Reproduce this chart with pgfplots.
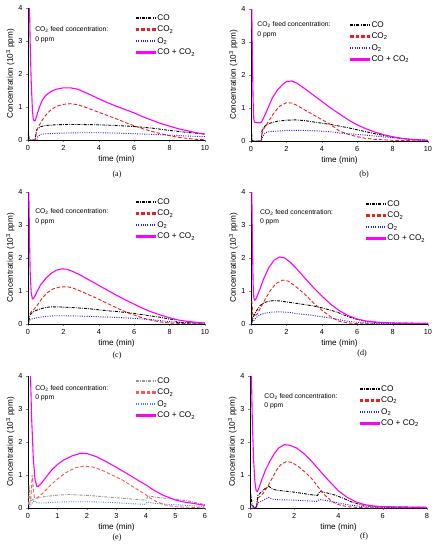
\documentclass[border=0pt]{standalone}
\usepackage{fontspec}
\setmainfont{Liberation Sans}
\newfontfamily\capfont{Liberation Serif}
\usepackage{pgfplots}
\pgfplotsset{compat=1.18}
\definecolor{cmag}{RGB}{255,0,255}
\definecolor{cred}{RGB}{240,30,30}
\definecolor{cblue}{RGB}{30,30,255}
\definecolor{cgray}{RGB}{150,150,150}
\definecolor{cred2}{RGB}{245,90,90}
\definecolor{cblue2}{RGB}{60,130,255}
\pgfplotsset{
  panel/.style={
    scale only axis, width=177pt, height=132pt, anchor=south west,
    axis lines=left, axis line style={-, line width=0.6pt},
    xmin=0, ymin=0, ymax=4, ytick={0,1,2,3,4},
    tick align=outside, major tick length=2pt,
    /pgf/number format/assume math mode=true,
    ticklabel style={font=\fontsize{7.3}{8}\selectfont},
    label style={font=\fontsize{8.2}{9}\selectfont},
    xlabel={time (min)},
    ylabel={Concentration (10\textsuperscript{3} ppm)},
    xlabel style={yshift=2pt},
    ylabel style={yshift=-3pt},
    every axis plot/.append style={line width=0.9pt},
  },
}
\tikzset{
  sco/.style={color=black, draw=black, dash pattern=on 3pt off 1.2pt on 0.8pt off 1.2pt},
  sco2/.style={color=cred, draw=cred, dash pattern=on 3.5pt off 2pt},
  so2/.style={color=cblue, draw=cblue, dash pattern=on 1pt off 1.3pt},
  ssum/.style={color=cmag, draw=cmag, line width=1.1pt},
  sgco/.style={color=cgray, draw=cgray, dash pattern=on 3pt off 1.2pt on 0.8pt off 1.2pt},
  sco2b/.style={color=cred2, draw=cred2, dash pattern=on 3.5pt off 2pt},
  so2b/.style={color=cblue2, draw=cblue2, dash pattern=on 1pt off 1.3pt},
  feednode/.style={anchor=north west, align=left, inner sep=0pt, font=\fontsize{6.8}{9.5}\selectfont},
  legtext/.style={anchor=west, inner sep=1.2pt, font=\fontsize{8.2}{9}\selectfont}}
\newcommand{\feed}{CO\textsubscript{2} feed concentration:\\0 ppm}
% legend row: style, x, y, row index, text
\newcommand{\legrow}[5]{%
  \draw[#1, line width=2.2pt] ([yshift=-#4*11.5pt]rel axis cs:#2,#3) -- ([yshift=-#4*11.5pt, xshift=20pt]rel axis cs:#2,#3);
  \node[legtext] at ([yshift=-#4*11.5pt, xshift=20pt]rel axis cs:#2,#3) {#5};}
\newcommand{\stdlegend}[2]{%
  \legrow{sco}{#1}{#2}{0}{CO}
  \legrow{sco2}{#1}{#2}{1}{CO\textsubscript{2}}
  \legrow{so2}{#1}{#2}{2}{O\textsubscript{2}}
  \legrow{ssum}{#1}{#2}{3}{CO + CO\textsubscript{2}}}
\begin{document}
\begin{tikzpicture}
\useasboundingbox (0,0) rectangle (438pt,550pt);
% (a)
\begin{axis}[panel, at={(28pt,410pt)}, xmax=10, xtick={0,2,4,6,8,10}]
\addplot[sco] coordinates {(0,0) (0.03,0.25) (0.06,0.05) (0.1,0) (0.4,0) (0.45,0.2) (0.5,0.32) (0.7,0.4) (1,0.44) (1.5,0.46) (2,0.47) (3,0.47) (4,0.46) (5,0.44) (6,0.41) (7,0.36) (8,0.29) (9,0.23) (10,0.18)};
\addplot[sco2] coordinates {(0,0) (0.4,0) (0.45,0.15) (0.5,0.3) (0.6,0.42) (0.8,0.6) (1,0.75) (1.3,0.92) (1.6,1.02) (2,1.08) (2.4,1.1) (2.8,1.07) (3.2,1.0) (3.6,0.92) (4,0.84) (4.5,0.74) (5,0.64) (5.5,0.53) (6,0.43) (6.5,0.34) (7,0.26) (7.5,0.19) (8,0.13) (8.5,0.08) (9,0.05) (9.5,0.02) (10,0.01)};
\addplot[so2] coordinates {(0,0) (0.5,0) (0.55,0.1) (0.7,0.17) (1,0.19) (2,0.21) (3,0.22) (4,0.22) (5,0.21) (6,0.19) (7,0.17) (8,0.15) (9,0.12) (10,0.1)};
\addplot[ssum] coordinates {(0.08,4.2) (0.12,3) (0.18,1.8) (0.25,0.9) (0.3,0.62) (0.35,0.58) (0.42,0.6) (0.5,0.75) (0.65,1.0) (0.8,1.2) (1,1.35) (1.3,1.47) (1.6,1.54) (2,1.58) (2.4,1.58) (2.8,1.54) (3.2,1.45) (3.6,1.35) (4,1.25) (4.5,1.13) (5,1.02) (5.5,0.92) (6,0.82) (6.5,0.7) (7,0.6) (7.5,0.5) (8,0.42) (8.5,0.34) (9,0.28) (9.5,0.22) (10,0.18)};
\stdlegend{0.61}{0.924}
\node[feednode] at (rel axis cs:0.04,0.86) {\feed};
\end{axis}
% (b)
\begin{axis}[panel, at={(251pt,409pt)}, xmax=10, xtick={0,2,4,6,8,10}]
\addplot[sco] coordinates {(0,0) (0.03,0.3) (0.06,0.05) (0.1,0) (0.58,0) (0.62,0.3) (0.7,0.42) (1,0.53) (1.5,0.6) (2,0.63) (2.5,0.64) (3,0.62) (3.5,0.58) (4,0.54) (4.5,0.5) (5,0.45) (5.5,0.4) (6,0.34) (6.5,0.28) (7,0.22) (7.5,0.17) (8,0.12) (8.5,0.08) (9,0.05) (10,0.02)};
\addplot[sco2] coordinates {(0,0) (0.58,0) (0.62,0.2) (0.7,0.35) (1,0.6) (1.3,0.85) (1.6,1.05) (2,1.16) (2.3,1.15) (2.6,1.08) (3,0.95) (3.5,0.8) (4,0.65) (4.5,0.5) (4.8,0.38) (5,0.3) (5.5,0.2) (6,0.13) (6.5,0.08) (7,0.05) (8,0.02) (9,0.01) (10,0)};
\addplot[so2] coordinates {(0,0) (0.6,0) (0.65,0.12) (0.8,0.25) (1,0.28) (1.5,0.3) (2,0.32) (3,0.32) (4,0.3) (4.7,0.27) (5,0.24) (6,0.2) (7,0.15) (8,0.1) (9,0.05) (10,0.02)};
\addplot[ssum] coordinates {(0.04,4.2) (0.08,2.5) (0.12,1.2) (0.16,0.65) (0.2,0.57) (0.4,0.55) (0.55,0.56) (0.62,0.6) (0.8,0.8) (1,1.05) (1.2,1.3) (1.5,1.55) (1.8,1.72) (2,1.8) (2.3,1.82) (2.6,1.75) (3,1.6) (3.5,1.4) (4,1.2) (4.5,1.0) (5,0.82) (5.5,0.64) (6,0.49) (6.5,0.37) (7,0.27) (7.5,0.19) (8,0.13) (8.5,0.08) (9,0.05) (9.5,0.03) (10,0.02)};
\stdlegend{0.56}{0.879}
\node[feednode] at (rel axis cs:0.035,0.905) {\feed};
\end{axis}
% (c)
\begin{axis}[panel, at={(28pt,226pt)}, xmax=10, xtick={0,2,4,6,8,10}]
\addplot[sco] coordinates {(0.05,0.1) (0.1,0.25) (0.2,0.33) (0.4,0.4) (0.7,0.46) (1,0.5) (1.3,0.52) (1.7,0.52) (2,0.51) (2.5,0.5) (3,0.48) (3.5,0.46) (4,0.43) (4.5,0.4) (5,0.38) (5.5,0.35) (6,0.32) (6.5,0.28) (7,0.24) (7.5,0.2) (8,0.15) (8.3,0.13) (8.4,0.05) (9,0.04) (10,0.03)};
\addplot[sco2] coordinates {(0.1,0.3) (0.2,0.38) (0.3,0.42) (0.5,0.55) (0.8,0.78) (1.1,0.95) (1.4,1.06) (1.8,1.12) (2.2,1.13) (2.5,1.1) (3,0.99) (3.5,0.87) (4,0.75) (4.5,0.62) (5,0.49) (5.5,0.37) (6,0.27) (6.5,0.18) (7,0.11) (7.5,0.06) (8,0.03) (9,0.01) (10,0)};
\addplot[so2] coordinates {(0.05,0.05) (0.1,0.12) (0.2,0.15) (0.5,0.19) (1,0.23) (1.5,0.25) (2,0.25) (3,0.24) (4,0.22) (5,0.2) (6,0.17) (6.5,0.15) (7,0.13) (7.5,0.1) (8,0.07) (8.5,0.05) (9,0.04) (10,0.02)};
\addplot[ssum] coordinates {(0.04,4.2) (0.08,2.8) (0.12,1.6) (0.18,0.95) (0.25,0.76) (0.3,0.77) (0.4,0.85) (0.5,0.97) (0.7,1.18) (1,1.38) (1.3,1.53) (1.6,1.63) (1.9,1.67) (2.2,1.66) (2.5,1.6) (3,1.47) (3.5,1.32) (4,1.17) (4.5,1.02) (5,0.87) (5.5,0.73) (6,0.6) (6.5,0.47) (7,0.36) (7.5,0.27) (8,0.19) (8.5,0.12) (9,0.08) (9.5,0.05) (10,0.03)};
\stdlegend{0.61}{0.924}
\node[feednode] at (rel axis cs:0.04,0.875) {\feed};
\end{axis}
% (d)
\begin{axis}[panel, at={(251pt,226pt)}, xmax=10, xtick={0,2,4,6,8,10}]
\addplot[sco] coordinates {(0.02,0) (0.04,0.55) (0.07,0.1) (0.12,0.2) (0.25,0.35) (0.5,0.55) (0.75,0.65) (1,0.69) (1.3,0.71) (1.6,0.7) (2,0.67) (2.5,0.63) (3,0.59) (3.5,0.55) (4,0.49) (4.5,0.42) (5,0.33) (5.5,0.22) (6,0.14) (6.5,0.08) (7,0.05) (8,0.03) (10,0.02)};
\addplot[sco2] coordinates {(0.05,0.7) (0.1,0.3) (0.2,0.25) (0.35,0.3) (0.5,0.45) (0.8,0.75) (1.1,1.02) (1.4,1.22) (1.8,1.33) (2.1,1.3) (2.5,1.15) (3,0.92) (3.5,0.65) (4,0.42) (4.5,0.22) (5,0.08) (5.5,0.03) (6,0.01) (7,0) (10,0)};
\addplot[so2] coordinates {(0.05,0.05) (0.15,0.1) (0.3,0.2) (0.5,0.28) (0.8,0.33) (1.2,0.36) (1.6,0.37) (2.2,0.35) (2.6,0.31) (3,0.29) (3.5,0.26) (4,0.22) (4.5,0.18) (5,0.13) (5.5,0.08) (6,0.05) (7,0.02) (10,0.01)};
\addplot[ssum] coordinates {(0.04,4.2) (0.08,2.5) (0.12,1.2) (0.16,0.8) (0.2,0.72) (0.25,0.73) (0.35,0.85) (0.5,1.05) (0.7,1.35) (1,1.7) (1.3,1.93) (1.6,2.03) (1.9,2.0) (2.2,1.88) (2.5,1.72) (3,1.42) (3.5,1.12) (4,0.85) (4.5,0.6) (5,0.4) (5.5,0.25) (6,0.15) (6.5,0.09) (7,0.06) (8,0.03) (9,0.02) (10,0.02)};
\stdlegend{0.65}{0.909}
\node[feednode] at (rel axis cs:0.05,0.87) {\feed};
\end{axis}
% (e)
\begin{axis}[panel, at={(28pt,42pt)}, xmax=6, xtick={0,1,2,3,4,5,6}]
\addplot[sgco] coordinates {(0.02,0.1) (0.04,0.7) (0.08,0.2) (0.15,0.25) (0.3,0.3) (0.6,0.35) (1,0.39) (1.4,0.41) (1.8,0.39) (2.2,0.37) (2.6,0.34) (3,0.31) (3.4,0.28) (3.8,0.25) (4,0.24) (4.07,0.37) (4.3,0.33) (4.6,0.3) (5,0.27) (5.5,0.2) (6,0.1)};
\addplot[sco2b] coordinates {(0.05,0.1) (0.1,0.3) (0.14,1.0) (0.18,0.6) (0.22,0.3) (0.3,0.3) (0.5,0.45) (0.8,0.72) (1,0.88) (1.3,1.08) (1.6,1.22) (1.9,1.27) (2.2,1.24) (2.5,1.15) (2.8,1.02) (3.2,0.85) (3.6,0.62) (4,0.4) (4.1,0.32) (4.3,0.22) (4.6,0.1) (5,0.04) (5.5,0.02) (6,0)};
\addplot[so2b] coordinates {(0.05,0.02) (0.1,0.1) (0.2,0.23) (0.3,0.16) (0.5,0.15) (1,0.18) (1.5,0.19) (2,0.19) (2.5,0.18) (3,0.16) (3.5,0.13) (3.95,0.11) (4.05,0.18) (4.3,0.14) (4.6,0.12) (5,0.1) (5.5,0.07) (6,0.05)};
\addplot[ssum] coordinates {(0.08,4.2) (0.12,2.8) (0.18,1.5) (0.24,0.85) (0.3,0.66) (0.35,0.66) (0.45,0.75) (0.6,0.92) (0.8,1.15) (1,1.32) (1.2,1.45) (1.5,1.58) (1.8,1.66) (2.0,1.65) (2.3,1.56) (2.6,1.43) (3,1.23) (3.4,1.02) (3.8,0.8) (4,0.7) (4.3,0.52) (4.6,0.38) (5,0.24) (5.3,0.18) (5.6,0.14) (6,0.08)};
\legrow{sgco}{0.61}{0.962}{0}{CO}
\legrow{sco2b}{0.61}{0.962}{1}{CO\textsubscript{2}}
\legrow{so2b}{0.61}{0.962}{2}{O\textsubscript{2}}
\legrow{ssum}{0.61}{0.962}{3}{CO + CO\textsubscript{2}}
\node[feednode] at (rel axis cs:0.04,0.93) {\feed};
\end{axis}
% (f)
\begin{axis}[panel, at={(250pt,42pt)}, xmax=8, xtick={0,2,4,6,8}]
\addplot[sco] coordinates {(0,0) (0.05,0.32) (0.1,0.1) (0.2,0) (0.3,0.05) (0.35,0.38) (0.5,0.48) (0.7,0.6) (0.85,0.66) (1,0.58) (1.2,0.54) (1.6,0.51) (2,0.48) (2.4,0.44) (2.8,0.4) (3.05,0.38) (3.15,0.5) (3.4,0.47) (3.8,0.4) (4.2,0.3) (4.6,0.18) (5,0.1) (5.5,0.05) (6,0.03) (8,0.02)};
\addplot[sco2] coordinates {(0,0) (0.3,0) (0.35,0.3) (0.45,0.35) (0.6,0.45) (0.8,0.65) (1,0.9) (1.2,1.15) (1.4,1.32) (1.65,1.41) (1.9,1.38) (2.2,1.25) (2.5,1.08) (2.8,0.88) (3.1,0.62) (3.4,0.38) (3.7,0.2) (4,0.1) (4.4,0.04) (5,0.01) (6,0) (8,0)};
\addplot[so2] coordinates {(0,0) (0.05,0.12) (0.12,0.05) (0.25,0) (0.35,0.15) (0.5,0.2) (0.7,0.27) (0.85,0.32) (1,0.27) (1.3,0.25) (2,0.24) (2.5,0.22) (3.0,0.2) (3.15,0.26) (3.5,0.22) (4,0.15) (4.5,0.09) (5,0.05) (5.5,0.03) (6,0.02) (8,0.01)};
\addplot[ssum] coordinates {(0.06,4.2) (0.1,2.8) (0.16,1.5) (0.22,0.8) (0.28,0.52) (0.33,0.5) (0.4,0.6) (0.5,0.8) (0.7,1.15) (0.9,1.42) (1.1,1.65) (1.3,1.82) (1.55,1.92) (1.8,1.9) (2.1,1.82) (2.4,1.67) (2.7,1.48) (3,1.25) (3.3,1.02) (3.6,0.8) (4,0.52) (4.4,0.32) (4.8,0.18) (5.2,0.1) (5.6,0.06) (6,0.04) (7,0.03) (8,0.02)};
\stdlegend{0.62}{0.902}
\node[feednode] at (rel axis cs:0.08,0.87) {\feed};
\end{axis}
\node[font=\capfont\fontsize{8}{9}\selectfont] at (117pt,375pt) {(a)};
\node[font=\capfont\fontsize{8}{9}\selectfont] at (364pt,375pt) {(b)};
\node[font=\capfont\fontsize{8}{9}\selectfont] at (117pt,194pt) {(c)};
\node[font=\capfont\fontsize{8}{9}\selectfont] at (362pt,196pt) {(d)};
\node[font=\capfont\fontsize{8}{9}\selectfont] at (117pt,12pt) {(e)};
\node[font=\capfont\fontsize{8}{9}\selectfont] at (364pt,13pt) {(f)};
\end{tikzpicture}
\end{document}
